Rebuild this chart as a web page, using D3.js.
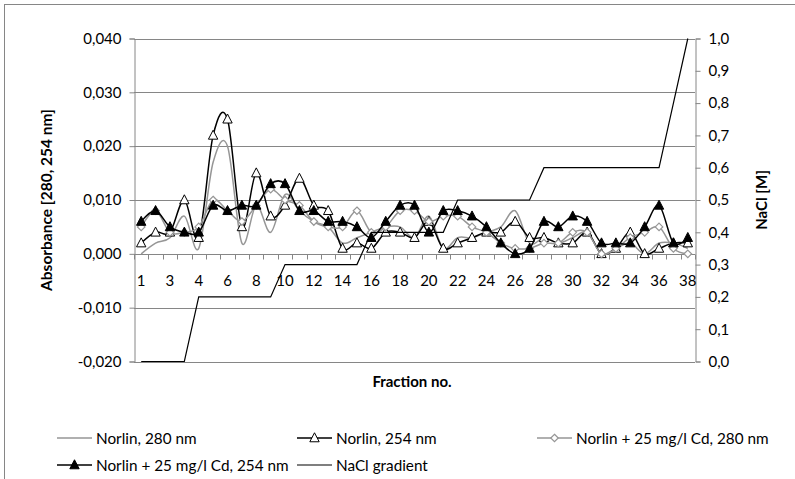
<!DOCTYPE html>
<html>
<head>
<meta charset="utf-8">
<script src="https://cdn.jsdelivr.net/npm/d3@7"></script>
<style>
  html, body { margin: 0; padding: 0; background: #fff; }
  svg { display: block; }
  text { font-family: Lato, "Open Sans", sans-serif; fill: #000; }
</style>
</head>
<body>
<svg id="chart" width="795" height="479"></svg>
<script>
// ---- data ----
const fractions = ["1","2","3","3b","4","5","6","7","8","9","10","11","12","13","14","15","16","17","18","19","20","21","22","23","24","25","26","27","28","29","30","31","32","33","34","35","36","37","38"];
const norlin280 = [0.000,0.002,0.003,0.007,0.001,0.017,0.020,0.002,0.009,0.004,0.011,0.008,0.006,0.005,0.002,0.003,0.004,0.005,0.005,0.003,0.007,0.001,0.003,0.003,0.004,0.005,0.008,0.002,0.003,0.002,0.003,0.004,0.000,0.001,0.002,0.000,0.002,0.002,0.001];
const norlin254 = [0.002,0.004,0.004,0.010,0.003,0.022,0.025,0.005,0.015,0.007,0.009,0.014,0.009,0.008,0.001,0.002,0.001,0.004,0.004,0.003,0.006,0.001,0.002,0.003,0.004,0.004,0.006,0.003,0.003,0.002,0.002,0.004,0.000,0.001,0.004,0.000,0.001,0.002,0.002];
const cd280 = [0.005,0.008,0.004,0.004,0.005,0.010,0.008,0.006,0.009,0.012,0.010,0.009,0.006,0.005,0.005,0.008,0.004,0.005,0.008,0.008,0.006,0.007,0.007,0.005,0.004,0.002,0.001,0.001,0.002,0.002,0.004,0.004,0.000,0.001,0.003,0.004,0.005,0.001,0.000];
const cd254 = [0.006,0.008,0.005,0.004,0.004,0.009,0.008,0.009,0.009,0.013,0.013,0.008,0.008,0.006,0.006,0.005,0.003,0.006,0.009,0.009,0.004,0.008,0.008,0.007,0.005,0.002,0.000,0.001,0.006,0.005,0.007,0.006,0.002,0.002,0.002,0.005,0.009,0.002,0.003];
const nacl = [0,0,0,0,0.2,0.2,0.2,0.2,0.2,0.2,0.3,0.3,0.3,0.3,0.3,0.3,0.4,0.4,0.4,0.4,0.4,0.4,0.5,0.5,0.5,0.5,0.5,0.5,0.6,0.6,0.6,0.6,0.6,0.6,0.6,0.6,0.6,0.8,1.0];
const leftTicks = [-0.02,-0.01,0,0.01,0.02,0.03,0.04];
const rightTicks = [0,0.1,0.2,0.3,0.4,0.5,0.6,0.7,0.8,0.9,1.0];
const seriesNames = ["Norlin, 280 nm","Norlin, 254 nm","Norlin + 25 mg/l Cd, 280 nm","Norlin + 25 mg/l Cd, 254 nm","NaCl gradient"];

// ---- setup ----
const svg = d3.select("#chart");
const L = 134, R = 695, T = 38.5, B = 361.5;
const grid = "#868686";
const loc = d3.formatLocale({decimal: ",", thousands: ".", grouping: [3], currency: ["", ""], minus: "-"});
const fL = loc.format(".3f"), fR = loc.format(".1f");

const x = d3.scaleBand().domain(fractions).range([L, R]).paddingInner(0).paddingOuter(0);
const cx = (d) => x(d) + x.bandwidth() / 2;
const yL = d3.scaleLinear().domain([-0.02, 0.04]).range([B, T]);
const yR = d3.scaleLinear().domain([0, 1]).range([B, T]);

// chart border
svg.append("rect").attr("x", 4.5).attr("y", 4.5).attr("width", 1000).attr("height", 1000)
  .attr("fill", "none").attr("stroke", grid).attr("stroke-width", 1);

// gridlines
svg.append("g").selectAll("line").data(leftTicks).join("line")
  .attr("x1", L).attr("x2", R)
  .attr("y1", d => Math.round(yL(d)) + 0.5).attr("y2", d => Math.round(yL(d)) + 0.5)
  .attr("stroke", grid).attr("stroke-width", 1);

// left axis
const gL = svg.append("g").attr("transform", `translate(${L + 0.5},0)`)
  .call(d3.axisLeft(yL).tickValues(leftTicks).tickFormat(fL).tickSize(5).tickPadding(8));
// right axis
const gR = svg.append("g").attr("transform", `translate(${R + 0.5},0)`)
  .call(d3.axisRight(yR).tickValues(rightTicks).tickFormat(fR).tickSize(5).tickPadding(8));
[gL, gR].forEach(g => {
  g.select(".domain").attr("stroke", grid);
  g.selectAll(".tick line").attr("stroke", grid);
  g.selectAll(".tick text").style("font-family", "Lato, sans-serif").style("font-size", "15px").attr("fill", "#000");
});

// x axis at zero
const y0 = Math.round(yL(0)) + 0.5;
const gX = svg.append("g").attr("transform", `translate(0,${y0})`);
gX.append("line").attr("x1", L).attr("x2", R).attr("stroke", grid);
const bounds = fractions.map(d => x(d)).concat([R]);
gX.selectAll("line.tk").data(bounds).join("line").attr("class", "tk")
  .attr("x1", d => Math.round(d) + 0.5).attr("x2", d => Math.round(d) + 0.5)
  .attr("y1", 0).attr("y2", 5).attr("stroke", grid);
gX.selectAll("text").data(fractions.filter((d, i) => i % 2 === 0)).join("text")
  .attr("x", d => cx(d)).attr("y", 31).attr("text-anchor", "middle")
  .style("font-size", "15px").text(d => d);

// axis titles
svg.append("text").attr("transform", `translate(52,${(T + B) / 2}) rotate(-90)`)
  .attr("text-anchor", "middle").style("font-size", "15.5px").style("font-weight", "bold")
  .text("Absorbance [280, 254 nm]");
svg.append("text").attr("transform", `translate(767,${(T + B) / 2}) rotate(-90)`)
  .attr("text-anchor", "middle").style("font-size", "15px").style("font-weight", "bold")
  .text("NaCl [M]");
svg.append("text").attr("x", 412).attr("y", 387).attr("text-anchor", "middle")
  .style("font-size", "15px").style("font-weight", "bold").text("Fraction no.");

// ---- series ----
const curve = d3.curveCardinal.tension(0);
const lineL = d3.line().x((d, i) => cx(fractions[i])).y(d => yL(d)).curve(curve);
const lineR = d3.line().x((d, i) => cx(fractions[i])).y(d => yR(d)).curve(d3.curveLinear);

const triPath = (s) => `M0,${-s * 0.58}L${s * 0.52},${s * 0.42}L${-s * 0.52},${s * 0.42}Z`;
const diaPath = (s) => `M0,${-s / 2}L${s / 2},0L0,${s / 2}L${-s / 2},0Z`;

const series = [
  {name: seriesNames[0], data: norlin280, color: "#969696", width: 1.5, marker: null},
  {name: seriesNames[1], data: norlin254, color: "#000", width: 1.5, marker: "tri-open"},
  {name: seriesNames[2], data: cd280, color: "#969696", width: 1.5, marker: "dia"},
  {name: seriesNames[3], data: cd254, color: "#000", width: 1.5, marker: "tri-fill"}
];

function drawMarker(g, type) {
  if (type === "tri-open") {
    g.append("path").attr("d", triPath(9)).attr("fill", "#fff").attr("stroke", "#000").attr("stroke-width", 1);
  } else if (type === "tri-fill") {
    g.append("path").attr("d", triPath(9)).attr("fill", "#000").attr("stroke", "#000").attr("stroke-width", 1);
  } else if (type === "dia") {
    g.append("path").attr("d", diaPath(7.5)).attr("fill", "#fff").attr("stroke", "#969696").attr("stroke-width", 1.2);
  }
}

const plot = svg.append("g");
series.forEach(s => {
  plot.append("path").attr("d", lineL(s.data)).attr("fill", "none")
    .attr("stroke", s.color).attr("stroke-width", s.width);
  if (s.marker) {
    s.data.forEach((v, i) => {
      const g = plot.append("g").attr("transform", `translate(${cx(fractions[i])},${yL(v)})`);
      drawMarker(g, s.marker);
    });
  }
});
plot.append("path").attr("d", lineR(nacl)).attr("fill", "none").attr("stroke", "#000").attr("stroke-width", 1.2);

// ---- legend ----
const legendItems = [
  {s: series[0], lx: 57, ly: 438},
  {s: series[1], lx: 297, ly: 438},
  {s: series[2], lx: 537, ly: 438},
  {s: series[3], lx: 57, ly: 465},
  {s: {name: seriesNames[4], color: "#000", width: 1.2, marker: null}, lx: 297, ly: 465}
];
legendItems.forEach(it => {
  const g = svg.append("g");
  g.append("line").attr("x1", it.lx).attr("x2", it.lx + 35).attr("y1", it.ly).attr("y2", it.ly)
    .attr("stroke", it.s.color).attr("stroke-width", it.s.width);
  if (it.s.marker) {
    const m = g.append("g").attr("transform", `translate(${it.lx + 17.5},${it.ly})`);
    drawMarker(m, it.s.marker);
  }
  g.append("text").attr("x", it.lx + 39).attr("y", it.ly + 5.5).style("font-size", "15.3px").text(it.s.name);
});
</script>
</body>
</html>
